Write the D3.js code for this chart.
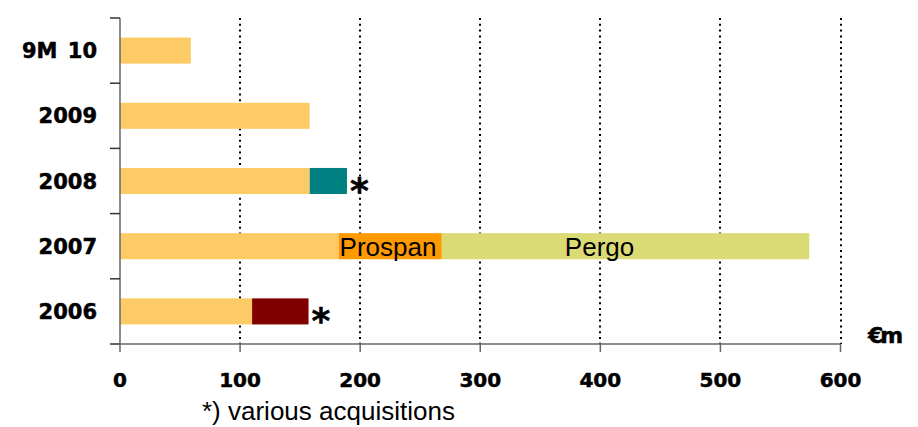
<!DOCTYPE html>
<html lang="en">
<head>
<meta charset="UTF-8">
<title>Acquisitions by year</title>
<style>
  body { margin: 0; background: #fff; }
  svg { display: block; }
  .ylab, .xlab, .unit, .star { font-family: "DejaVu Sans", sans-serif; font-weight: bold; fill: #000; stroke: #000; stroke-width: 0.5px; }
  .seglab, .note { font-family: "Liberation Sans", Arial, sans-serif; fill: #000; }
</style>
</head>
<body>
<div id="chart"></div>
<script src="https://d3js.org/d3.v7.min.js"></script>
<script>
// values in EUR m
const categories = ["9M 10", "2009", "2008", "2007", "2006"];
const organic    = [59, 158, 158, 182, 110];
const acq2008    = [0, 0, 31, 0, 0];
const acq2006    = [0, 0, 0, 0, 47];
const prospan    = [0, 0, 0, 86, 0];
const pergo      = [0, 0, 0, 306, 0];
const xTicks     = [0, 100, 200, 300, 400, 500, 600];

const seriesKeys   = ["organic", "acq2008", "acq2006", "prospan", "pergo"];
const seriesColors = ["#FCCB66", "#008080", "#800000", "#FF9900", "#DBDB76"];
const seriesLabels = [null, null, null, "Prospan", "Pergo"];

const rows = categories.map((c, i) => ({
  cat: c,
  organic: organic[i], acq2008: acq2008[i], acq2006: acq2006[i],
  prospan: prospan[i], pergo: pergo[i]
}));

const width = 918, height = 427;
const svg = d3.select("#chart").append("svg")
  .attr("width", width).attr("height", height);

const x = d3.scaleLinear().domain([0, 600]).range([120, 840.5]);
const y = d3.scaleBand().domain(categories).range([18, 344])
  .paddingInner(0.6).paddingOuter(0.3);

// dotted grid
svg.append("g").selectAll("line")
  .data(xTicks.slice(1)).join("line")
  .attr("x1", d => Math.round(x(d))).attr("x2", d => Math.round(x(d)))
  .attr("y1", 18).attr("y2", 344)
  .attr("stroke", "#000").attr("stroke-width", 2)
  .attr("stroke-dasharray", "2,3.8");

// bars
const stack = d3.stack().keys(seriesKeys)(rows);
stack.forEach((s, si) => {
  svg.append("g").attr("fill", seriesColors[si])
    .selectAll("rect").data(s.filter(d => d[1] > d[0])).join("rect")
    .attr("x", d => x(d[0]))
    .attr("width", d => x(d[1]) - x(d[0]))
    .attr("y", d => y(d.data.cat))
    .attr("height", y.bandwidth());
});

// segment labels inside the 2007 bar
const prospanSeg = stack[3].find(d => d[1] > d[0]);
svg.append("text").attr("class", "seglab")
  .attr("x", x(prospanSeg[0]) + 1)
  .attr("y", y(prospanSeg.data.cat) + y.bandwidth() / 2)
  .attr("dy", "0.36em").attr("font-size", 26)
  .text(seriesLabels[3]);
const pergoSeg = stack[4].find(d => d[1] > d[0]);
svg.append("text").attr("class", "seglab")
  .attr("x", (x(pergoSeg[0]) + x(pergoSeg[1])) / 2 - 26)
  .attr("y", y(pergoSeg.data.cat) + y.bandwidth() / 2)
  .attr("dy", "0.36em").attr("font-size", 26)
  .attr("text-anchor", "middle")
  .text(seriesLabels[4]);

// asterisks after bars with various acquisitions
rows.forEach((r, i) => {
  if (acq2008[i] + acq2006[i] > 0) {
    const total = seriesKeys.reduce((a, k) => a + r[k], 0);
    svg.append("text").attr("class", "star")
      .attr("x", x(total) + 3)
      .attr("y", y(r.cat) + y.bandwidth() / 2 + 22)
      .attr("font-size", 36)
      .text("*");
  }
});

// y axis
const yBounds = categories.map(c => y(c) - y.step() * y.paddingInner() / 2);
yBounds.push(344);
svg.append("line").attr("x1", 120).attr("x2", 120).attr("y1", 18).attr("y2", 344)
  .attr("stroke", "#666").attr("stroke-width", 1.5);
svg.append("g").selectAll("line").data(yBounds).join("line")
  .attr("x1", 110).attr("x2", 120)
  .attr("y1", d => d).attr("y2", d => d)
  .attr("stroke", "#333").attr("stroke-width", 1.5);

svg.append("g").selectAll("text").data(categories).join("text")
  .attr("class", "ylab")
  .attr("x", 97).attr("y", d => y(d) + y.bandwidth() / 2)
  .attr("dy", "0.36em").attr("text-anchor", "end").attr("font-size", 21)
  .attr("word-spacing", 3)
  .text(d => d);

// x axis
svg.append("line").attr("x1", 110).attr("x2", x(600)).attr("y1", 344).attr("y2", 344)
  .attr("stroke", "#666").attr("stroke-width", 1.5);
svg.append("g").selectAll("line").data(xTicks).join("line")
  .attr("x1", d => x(d)).attr("x2", d => x(d))
  .attr("y1", 344).attr("y2", 352)
  .attr("stroke", "#666").attr("stroke-width", 1.5);
svg.append("g").selectAll("text").data(xTicks).join("text")
  .attr("class", "xlab")
  .attr("x", d => x(d)).attr("y", 387)
  .attr("text-anchor", "middle").attr("font-size", 20)
  .text(d => d);

svg.append("text").attr("class", "unit")
  .attr("x", 868).attr("y", 343).attr("font-size", 22)
  .attr("letter-spacing", -3)
  .text("€m");

svg.append("text").attr("class", "note")
  .attr("x", 202).attr("y", 420).attr("font-size", 26)
  .text("*) various acquisitions");
</script>
</body>
</html>
